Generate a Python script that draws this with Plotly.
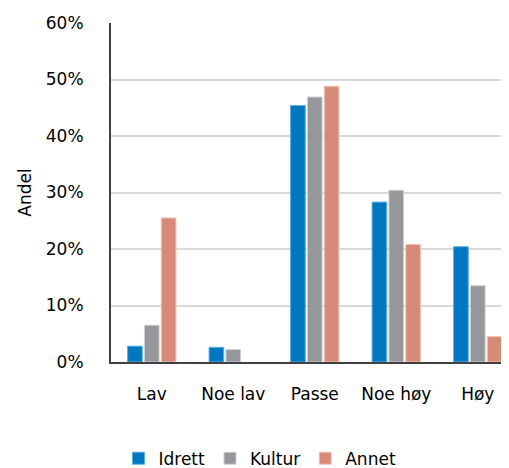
import plotly.graph_objects as go

categories = ["Lav", "Noe lav", "Passe", "Noe høy", "Høy"]
idrett = [0.028, 0.026, 0.454, 0.283, 0.204]
kultur = [0.065, 0.022, 0.469, 0.304, 0.135]
annet = [0.255, None, 0.488, 0.208, 0.045]
y_ticks = [0, 0.1, 0.2, 0.3, 0.4, 0.5, 0.6]

font_family = "'DejaVu Sans', sans-serif"

fig = go.Figure()
fig.add_trace(go.Bar(name="Idrett", x=categories, y=idrett,
                     marker_color="#0077C0", marker_line_color="#5AAEE0", marker_line_width=1))
fig.add_trace(go.Bar(name="Kultur", x=categories, y=kultur,
                     marker_color="#96979B", marker_line_color="#D0D0D3", marker_line_width=1))
fig.add_trace(go.Bar(name="Annet", x=categories, y=annet,
                     marker_color="#D88A78", marker_line_color="#F0C4BA", marker_line_width=1))

# page has an 8px body margin, so everything is shifted by 8px
fig.update_layout(
    width=509, height=468,
    margin=dict(l=103, r=8, t=15, b=114, autoexpand=False),
    paper_bgcolor="white", plot_bgcolor="white",
    barmode="group", bargap=0.38, bargroupgap=0.13,
    font=dict(family=font_family, size=17, color="black"),
    showlegend=True,
    legend=dict(orientation="h", xref="container", x=0.495, xanchor="center",
                yref="container", y=0.037, yanchor="middle", font=dict(size=17),
                traceorder="normal", itemwidth=30, tracegroupgap=0),
)
fig.update_xaxes(range=[-0.5, 4.383], showline=True, linecolor="#404040", linewidth=2,
                 ticks="", tickangle=0, automargin=False, tickfont=dict(size=17),
                 ticklabelstandoff=16, showgrid=False)
fig.update_yaxes(range=[0, 0.6], tickvals=y_ticks, tickformat=".0%",
                 showline=True, linecolor="#404040", linewidth=2,
                 showgrid=True, gridcolor="#D9D9D9", gridwidth=1.5,
                 ticks="", ticklen=0, tickfont=dict(size=17), automargin=False,
                 ticklabelstandoff=22,
                 title=dict(text="Andel", font=dict(size=17), standoff=10),
                 zeroline=False)

fig.write_html("out.html")
